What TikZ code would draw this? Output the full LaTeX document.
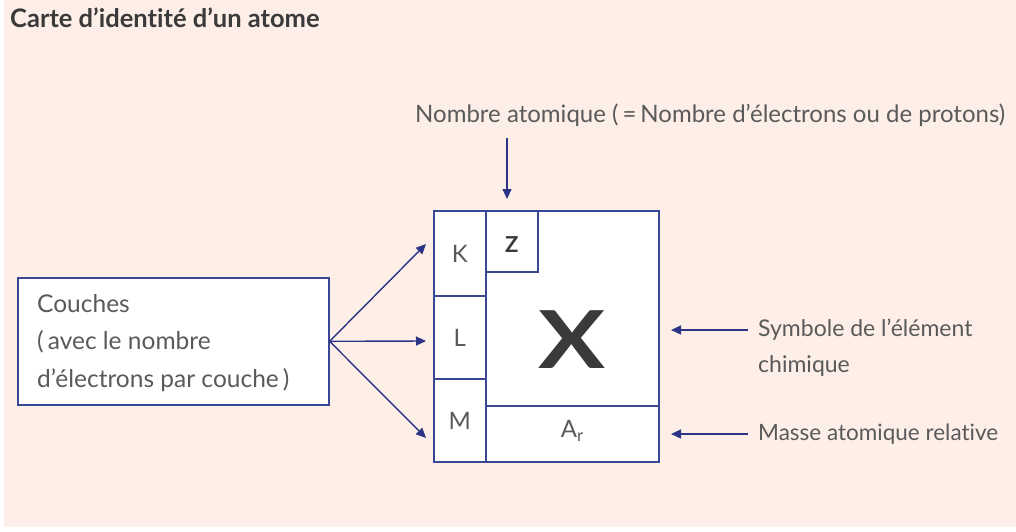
\documentclass[tikz,border=0pt]{standalone}
\usepackage{fontspec}
\setmainfont{Lato}[Ligatures=NoCommon]
\usetikzlibrary{arrows.meta}
\definecolor{bg}{HTML}{FDEEE7}
\definecolor{navy}{HTML}{3A4795}
\definecolor{arr}{HTML}{2C3585}
\definecolor{txt}{HTML}{5A5A5A}
\definecolor{ttl}{HTML}{3A3A3A}
\tikzset{
  cell/.style={draw=navy, line width=1.6pt, fill=white, anchor=north west, inner sep=0pt},
  lbl/.style={text=txt, font=\fontsize{24}{28}\selectfont, inner sep=0pt},
  arrw/.style={draw=arr, line width=1.4pt, -{Triangle[length=10pt,width=9pt]}}
}
\begin{document}
\begin{tikzpicture}[x=1pt,y=-1pt]
\useasboundingbox (0,0) rectangle (1016,531);
\fill[white] (0,0) rectangle (1016,531);
\fill[bg] (4,0) rectangle (1016,527);
\node[anchor=west, text=ttl, font=\bfseries\fontsize{25.5}{28}\selectfont, inner sep=0pt] (title) at (10,18) {Carte d’identité d’un atome};
% card
\node[cell, minimum width=225pt, minimum height=251pt] (card) at (433,210) {};
\node[cell, minimum width=52pt, minimum height=85pt] (K) at (433,210) {};
\node[cell, minimum width=52pt, minimum height=83pt] (L) at (433,295) {};
\node[cell, minimum width=52pt, minimum height=83pt] (M) at (433,378) {};
\node[cell, minimum width=52pt, minimum height=61pt] (Z) at (485,210) {};
\node[cell, minimum width=173pt, minimum height=56pt] (A) at (485,405) {};
\node[lbl] at ([yshift=-1pt]K.center) {K};
\node[lbl] at ([yshift=-1pt]L.center) {L};
\node[lbl] at ([yshift=-1pt]M.center) {M};
\node[lbl, text=ttl, font=\bfseries\fontsize{22}{26}\selectfont] at ([yshift=-3pt]Z.center) {Z};
\node[lbl] at ([yshift=3pt]A.center) {A\textsubscript{r}};
\node[text=ttl, font=\bfseries\fontsize{80}{90}\selectfont, inner sep=0pt] (X) at (572,340) {\scalebox{1.25}[1]{X}};
% left box
\node[draw=navy, line width=1.6pt, fill=white, anchor=north west, minimum width=311pt, minimum height=127pt, inner sep=0pt] (couches) at (17,277) {};
\node[lbl, anchor=west, align=left, font=\fontsize{24.5}{37.5}\selectfont] (ctext) at (37,343) {Couches\\(\,avec le nombre\\d’électrons par couche\,)};
\coordinate (src) at (couches.east);
\coordinate (kt) at (426,244);
\coordinate (lt) at (426,341);
\coordinate (mt) at (426,438);
\draw[arrw] (src) -- (kt);
\draw[arrw] (src) -- (lt);
\draw[arrw] (src) -- (mt);
% top label
\node[lbl, anchor=west] (nat) at (415,115) {Nombre atomique (\,=\,Nombre d’électrons ou de protons)};
\coordinate (ztop) at (507,138);
\coordinate (zend) at (507,199);
\draw[arrw] (ztop) -- (zend);
% right labels
\node[lbl, anchor=west, align=left, font=\fontsize{23}{36}\selectfont] (sym) at (758,348) {Symbole de l’élément\\chimique};
\node[lbl, anchor=west, font=\fontsize{22.5}{26}\selectfont] (mass) at (758,434) {Masse atomique relative};
\coordinate (s1) at (748,330);
\coordinate (s2) at (671,330);
\coordinate (m1) at (748,434);
\coordinate (m2) at (671,434);
\draw[arrw] (s1) -- (s2);
\draw[arrw] (m1) -- (m2);
\end{tikzpicture}
\end{document}
